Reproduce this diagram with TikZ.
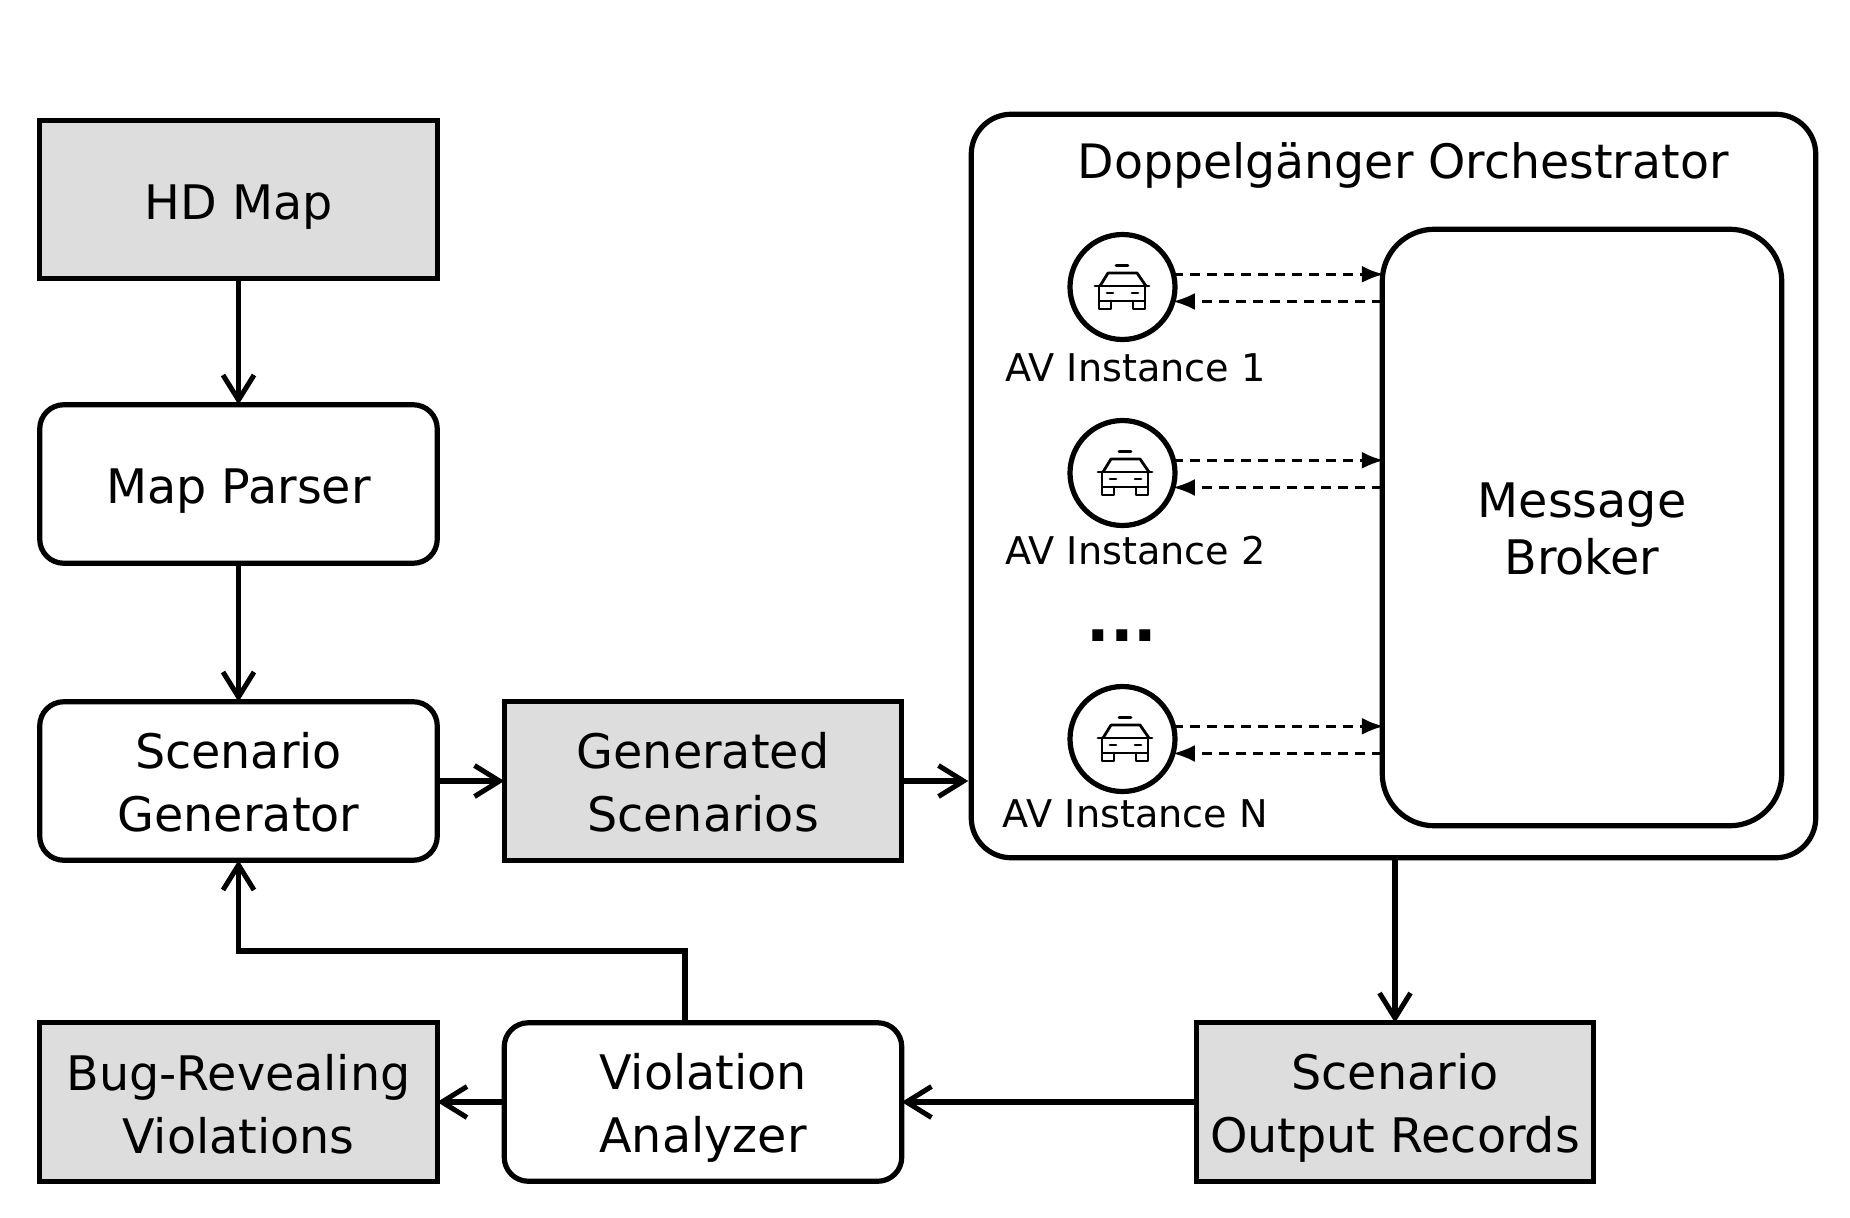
\documentclass[tikz,border=0pt]{standalone}
\usepackage{fontspec}
\setmainfont{DejaVu Sans}
\usetikzlibrary{arrows.meta,calc}
\definecolor{boxgray}{HTML}{DDDDDD}
\newcommand{\topstrut}[1]{\rule{0pt}{#1pt}}
\tikzset{
  x=1pt,y=-1pt,
  every node/.style={inner sep=0pt,outer sep=0pt},
  base/.style={draw=black,line width=5.2pt,minimum width=397.5pt,minimum height=158.5pt,align=center,
     font=\fontsize{47.6}{63}\selectfont,text=black},
  graybox/.style={base,fill=boxgray},
  roundbox/.style={base,fill=white,rounded corners=24pt},
  flow/.style={draw=black,line width=5.2pt,-{Straight Barb[length=25pt,width=31pt,line width=5pt]}},
  msg/.style={draw=black,line width=2.6pt,dash pattern=on 10pt off 7pt,-{Latex[length=22pt,width=17pt]}},
  avcircle/.style={draw=black,line width=5.2pt,circle,minimum size=105pt,fill=white},
  avlabel/.style={font=\fontsize{38.2}{45}\selectfont,text=black},
  caricon/.pic={
    \begin{scope}[line width=2.8pt,line cap=round,line join=round]
      \draw (-6,-21.5) -- (6,-21.5);
      \draw (-27,-1) -- (27,-1);
      \draw (-22,-1) -- (-14,-14) -- (15,-14) -- (24,-1);
      \draw (-23,-1) -- (-23,14) -- (23,14) -- (23,-1);
      \draw (-23,14) -- (-23,22) -- (-11,22) -- (-11,14);
      \draw (11,14) -- (11,22) -- (23,22) -- (23,14);
      \draw (-15,6) -- (-9,6);
      \draw (10,6) -- (16,6);
    \end{scope}
  }
}
\begin{document}
\begin{tikzpicture}
\useasboundingbox (0,0) rectangle (1850,1218);
\fill[white] (0,0) rectangle (1850,1218);

\node[graybox] (hd) at (238.5,199.5) {\topstrut{50.6}HD Map};
\node[roundbox] (parser) at (238.5,484) {\topstrut{48.6}Map Parser};
\node[roundbox] (gen) at (238.5,781) {\topstrut{38}Scenario\\Generator};
\node[graybox] (scen) at (703,781) {\topstrut{39}Generated\\Scenarios};
\node[graybox] (bug) at (238.5,1102) {\topstrut{40}Bug-Revealing\\Violations};
\node[roundbox] (viol) at (703,1102) {\topstrut{48}Violation\\Analyzer};
\node[graybox] (rec) at (1395,1102) {\topstrut{48}Scenario\\Output Records};

\node[base,fill=white,rounded corners=40pt,minimum width=844.5pt,minimum height=743.5pt] (orch) at (1393.5,486) {};
\node[font=\fontsize{47.4}{57}\selectfont] (orchtitle) at (1403,165.5) {Doppelgänger Orchestrator};
\node[roundbox,rounded corners=52pt,minimum width=399.5pt,minimum height=596.5pt,font=\fontsize{47.6}{56.5}\selectfont] (broker) at (1582,527.5) {\topstrut{38}Message\\Broker};

\node[avcircle] (c1) at (1122.5,287) {};
\node[avcircle] (c2) at (1122.5,473) {};
\node[avcircle] (c3) at (1122.5,739) {};
\pic at (1122,287) {caricon};
\pic at (1125,473) {caricon};
\pic at (1125,739) {caricon};
\node[avlabel] (l1) at (1135.5,368) {AV Instance 1};
\node[avlabel] (l2) at (1135.5,551) {AV Instance 2};
\node[avlabel] (l3) at (1135.5,814) {AV Instance N};
\node[font=\fontsize{62}{62}\selectfont\bfseries] (dots) at (1122,636) {...};

\draw[flow] (hd) -- (parser);
\draw[flow] (parser) -- (gen);
\draw[flow] (gen) -- (scen);
\draw[flow,shorten >=3pt] (scen.east) -- (orch.west |- scen.east);
\draw[flow] (orch.south -| rec.north) -- (rec.north);
\draw[flow] (rec) -- (viol);
\draw[flow] (viol) -- (bug);
\coordinate (fbstart) at (685,1023);
\coordinate (fbturn) at (685,951);
\draw[flow] (fbstart) -- (fbturn) -| (gen.south);

\foreach \c in {c1,c2,c3}{
  \draw[msg,shorten >=-1.5pt] (\c.14) -- (\c.14 -| broker.west);
  \draw[msg] (broker.west |- \c.-16) -- (\c.-16);
}
\end{tikzpicture}
\end{document}
